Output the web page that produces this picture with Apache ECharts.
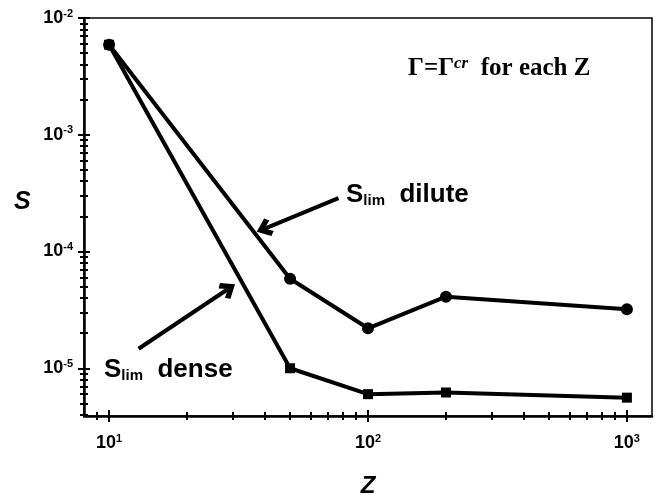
<!DOCTYPE html>
<html>
<head>
<meta charset="utf-8">
<script src="https://cdn.jsdelivr.net/npm/echarts@6/dist/echarts.min.js"></script>
<style>html,body{margin:0;padding:0;background:#fff}#c{width:656px;height:495px}</style>
</head>
<body>
<div id="c"></div>
<script>
// ---- data ----
var zValues = [10, 50, 100, 200, 1000];
var sDilute = [5.9e-3, 5.85e-5, 2.2e-5, 4.1e-5, 3.2e-5];
var sDense  = [5.9e-3, 1.0e-5, 6.0e-6, 6.2e-6, 5.6e-6];
var xMajorTicks = [10, 100, 1000];
var xMinorTicks = [9, 20, 30, 40, 50, 60, 70, 80, 90, 200, 300, 400, 500, 600, 700, 800, 900];
var yMajorTicks = [1e-5, 1e-4, 1e-3, 1e-2];
var yMinorTicks = [4e-6, 5e-6, 6e-6, 7e-6, 8e-6, 9e-6,
  2e-5, 3e-5, 4e-5, 5e-5, 6e-5, 7e-5, 8e-5, 9e-5,
  2e-4, 3e-4, 4e-4, 5e-4, 6e-4, 7e-4, 8e-4, 9e-4,
  2e-3, 3e-3, 4e-3, 5e-3, 6e-3, 7e-3, 8e-3, 9e-3];
// annotation arrows [from, to] in data coordinates
var arrowDilute = [[76.9, 2.87e-4], [39.7, 1.565e-4]];
var arrowDense  = [[13.0, 1.47e-5], [28.9, 4.80e-5]];

function pairs(xs, ys) { return xs.map(function (x, i) { return [x, ys[i]]; }); }

var chart = echarts.init(document.getElementById('c'), null, {renderer: 'canvas'});
var FONT = 'Liberation Sans, Arial, Helvetica, sans-serif';
var SERIF = 'Liberation Serif, Times New Roman, serif';

function expLabel(v) {
  var e = Math.round(Math.log10(v));
  return '{b|10}{s|' + e + '}';
}
var labelRich = {
  b: {fontSize: 18, fontWeight: 'bold', fontFamily: FONT, color: '#000', lineHeight: 20},
  s: {fontSize: 11, fontWeight: 'bold', fontFamily: FONT, color: '#000', lineHeight: 11, verticalAlign: 'top'}
};

function logAxis(kind, opts) {
  var isX = kind === 'x';
  var base = {
    type: 'log', logBase: 10, gridIndex: 0,
    position: isX ? 'bottom' : 'left', offset: 0,
    min: isX ? 8 : 3.9e-6, max: isX ? 1250 : 1e-2,
    splitLine: {show: false}, minorTick: {show: false}, minorSplitLine: {show: false},
    axisLine: {show: false, onZero: false}, axisLabel: {show: false},
    axisTick: {show: true, inside: opts.inside, length: opts.len, customValues: opts.ticks,
      lineStyle: {color: '#000', width: 2}}
  };
  if (opts.main) {
    base.axisLine = {show: true, onZero: false, lineStyle: {color: '#000', width: 2.5}};
    base.axisLabel = {show: true, customValues: opts.ticks, formatter: expLabel, rich: labelRich,
      margin: isX ? 17 : 11};
    if (isX) {
      base.name = 'Z'; base.nameLocation = 'middle'; base.nameGap = 58;
      base.nameTextStyle = {fontSize: 24, fontWeight: 'bold', fontStyle: 'italic', fontFamily: FONT, color: '#000'};
    }
  }
  return base;
}

var chevron = 'path://M50,0 L100,58 L80,78 L50,42 L20,78 L0,58 Z';

var option = {
  animation: false,
  backgroundColor: '#fff',
  grid: {left: 84, right: 4, top: 18, bottom: 79, show: true, borderColor: '#000', borderWidth: 1.5,
    containLabel: false, outerBoundsMode: 'none'},
  xAxis: [
    logAxis('x', {main: true, inside: false, len: 6, ticks: xMajorTicks}),
    logAxis('x', {inside: true, len: 6, ticks: xMajorTicks}),
    logAxis('x', {inside: false, len: 4, ticks: xMinorTicks}),
    logAxis('x', {inside: true, len: 4, ticks: xMinorTicks})
  ],
  yAxis: [
    logAxis('y', {main: true, inside: false, len: 6, ticks: yMajorTicks}),
    logAxis('y', {inside: true, len: 6, ticks: yMajorTicks}),
    logAxis('y', {inside: false, len: 4, ticks: yMinorTicks}),
    logAxis('y', {inside: true, len: 4, ticks: yMinorTicks})
  ],
  series: [
    {
      name: 'dilute', type: 'line', data: pairs(zValues, sDilute),
      symbol: 'circle', symbolSize: 12,
      lineStyle: {color: '#000', width: 4}, itemStyle: {color: '#000'},
      z: 3,
      markLine: {
        silent: true, animation: false,
        symbol: ['none', chevron], symbolSize: [19, 16],
        lineStyle: {color: '#000', width: 4, type: 'solid'},
        label: {show: false}, emphasis: {disabled: true},
        data: [
          [{coord: arrowDilute[0]}, {coord: arrowDilute[1]}],
          [{coord: arrowDense[0]}, {coord: arrowDense[1]}]
        ]
      }
    },
    {
      name: 'dense', type: 'line', data: pairs(zValues, sDense),
      symbol: 'rect', symbolSize: 10,
      lineStyle: {color: '#000', width: 4}, itemStyle: {color: '#000'},
      z: 2
    }
  ],
  graphic: [
    {
      type: 'text', left: 14, top: 190,
      style: {text: 'S', fontSize: 25, fontWeight: 'bold', fontStyle: 'italic', fontFamily: FONT, fill: '#000'}
    },
    {
      type: 'text', left: 408, top: 55,
      style: {
        text: '{g|Γ=Γ}{c|cr}{g|  for each Z}',
        rich: {
          g: {fontSize: 25, fontWeight: 'bold', fontFamily: SERIF, fill: '#000', lineHeight: 27},
          c: {fontSize: 17, fontWeight: 'bold', fontStyle: 'italic', fontFamily: SERIF, fill: '#000', lineHeight: 15, verticalAlign: 'top'}
        }
      }
    },
    {
      type: 'text', left: 346, top: 182,
      style: {
        text: '{S|S}{l|lim}{t|  dilute}',
        rich: {
          S: {fontSize: 26, fontWeight: 'bold', fontFamily: FONT, fill: '#000', lineHeight: 27},
          l: {fontSize: 15, fontWeight: 'bold', fontFamily: FONT, fill: '#000', lineHeight: 13, verticalAlign: 'bottom'},
          t: {fontSize: 26, fontWeight: 'bold', fontFamily: FONT, fill: '#000', lineHeight: 27}
        }
      }
    },
    {
      type: 'text', left: 104, top: 357,
      style: {
        text: '{S|S}{l|lim}{t|  dense}',
        rich: {
          S: {fontSize: 26, fontWeight: 'bold', fontFamily: FONT, fill: '#000', lineHeight: 27},
          l: {fontSize: 15, fontWeight: 'bold', fontFamily: FONT, fill: '#000', lineHeight: 13, verticalAlign: 'bottom'},
          t: {fontSize: 26, fontWeight: 'bold', fontFamily: FONT, fill: '#000', lineHeight: 27}
        }
      }
    }
  ]
};
chart.setOption(option);
</script>
</body>
</html>
